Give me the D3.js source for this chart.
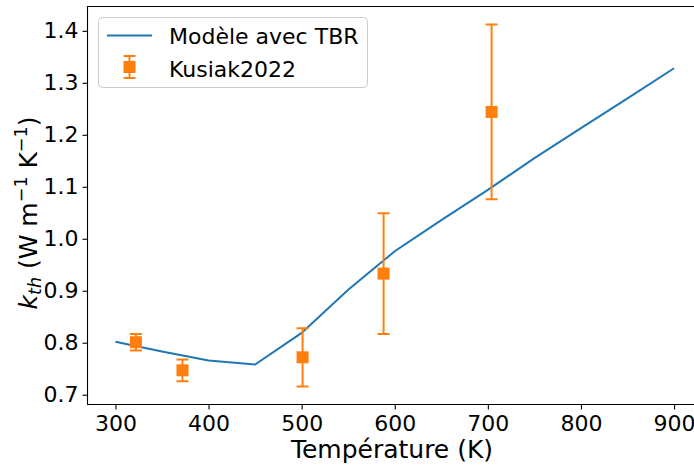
<!DOCTYPE html>
<html><head><meta charset="utf-8">
<script src="https://cdn.jsdelivr.net/npm/d3@7"></script>
<style>
body{margin:0;background:#fff;}
text{font-family:"DejaVu Sans",sans-serif;fill:#000;}
</style></head>
<body>
<svg id="chart" width="694" height="467"></svg>
<script>
// Model line (Modèle avec TBR)
const modelT = [300, 350, 400, 450, 500, 550, 600, 650, 700, 750, 800, 850, 900];
const modelK = [0.802, 0.783, 0.766, 0.758, 0.819, 0.902, 0.976, 1.036, 1.094, 1.155, 1.213, 1.270, 1.328];
// Experimental points (Kusiak2022)
const expT = [322, 372, 501, 588, 704];
const expK = [0.801, 0.747, 0.772, 0.933, 1.244];
const expErr = [0.016, 0.021, 0.056, 0.116, 0.168];
const xTicks = [300, 400, 500, 600, 700, 800, 900];
const yTicks = [0.7, 0.8, 0.9, 1.0, 1.1, 1.2, 1.3, 1.4];

const svg = d3.select("#chart");
const L = 87.5, R = 702, T = 6.5, B = 404.5;
const blue = "#1f77b4", orange = "#ff7f0e";
const tickFont = "22px", labelFont = "25px";

const xmin = d3.min(modelT.concat(expT)), xmax = d3.max(modelT.concat(expT));
const lows = expK.map((v,i)=>v-expErr[i]), highs = expK.map((v,i)=>v+expErr[i]);
const ymin = d3.min(modelK.concat(lows)), ymax = d3.max(modelK.concat(highs));
const xm = (xmax-xmin)*0.05, ym = (ymax-ymin)*0.05;
const x = d3.scaleLinear().domain([xmin-xm, xmax+xm]).range([L, R]);
const y = d3.scaleLinear().domain([ymin-ym, ymax+ym]).range([B, T]);

// axes
const xAxis = svg.append("g").attr("transform",`translate(0,${B})`)
  .call(d3.axisBottom(x).tickValues(xTicks).tickFormat(d3.format("d")).tickSize(5).tickPadding(5));
const yAxis = svg.append("g").attr("transform",`translate(${L},0)`)
  .call(d3.axisLeft(y).tickValues(yTicks).tickFormat(d3.format(".1f")).tickSize(5).tickPadding(4));
[xAxis,yAxis].forEach(a=>{
  a.select(".domain").remove();
  a.selectAll("line").attr("stroke","#000").attr("stroke-width",1.1);
  a.selectAll("text").style("font-size",tickFont).style("font-family","DejaVu Sans");
});
xAxis.selectAll("text").attr("y",26).attr("dy",0);

// spines
svg.append("path").attr("d",`M${R},${T}H${L}V${B}H${R}`).attr("fill","none").attr("stroke","#000").attr("stroke-width",1.1);

svg.append("defs").append("clipPath").attr("id","clip").append("rect")
  .attr("x",L).attr("y",T).attr("width",R-L).attr("height",B-T);
const plot = svg.append("g").attr("clip-path","url(#clip)");

// model line
plot.append("path").datum(modelT.map((t,i)=>[t,modelK[i]]))
  .attr("d", d3.line().x(d=>x(d[0])).y(d=>y(d[1])))
  .attr("fill","none").attr("stroke",blue).attr("stroke-width",2);

// error bars
const eg = plot.selectAll(".eb").data(expT.map((t,i)=>({t, k:expK[i], e:expErr[i]}))).enter().append("g");
eg.append("line").attr("x1",d=>x(d.t)).attr("x2",d=>x(d.t)).attr("y1",d=>y(d.k-d.e)).attr("y2",d=>y(d.k+d.e))
  .attr("stroke",orange).attr("stroke-width",2);
[-1,1].forEach(s=>{
  eg.append("line").attr("x1",d=>x(d.t)-6).attr("x2",d=>x(d.t)+6)
    .attr("y1",d=>y(d.k+s*d.e)).attr("y2",d=>y(d.k+s*d.e))
    .attr("stroke",orange).attr("stroke-width",2);
});
eg.append("rect").attr("x",d=>x(d.t)-6).attr("y",d=>y(d.k)-6).attr("width",12).attr("height",12)
  .attr("fill",orange);

// axis labels
svg.append("text").attr("x",392).attr("y",458).attr("text-anchor","middle")
  .style("font-size",labelFont).text("Température (K)");
const yl = svg.append("text").attr("transform","translate(37,213) rotate(-90)").attr("text-anchor","middle")
  .style("font-size",labelFont);
yl.append("tspan").style("font-style","italic").text("k");
yl.append("tspan").style("font-style","italic").style("font-size","17.5px").attr("dy",4).text("th");
yl.append("tspan").attr("dy",-4).text(" (W m");
yl.append("tspan").style("font-size","17.5px").attr("dy",-10).text("−1");
yl.append("tspan").attr("dy",10).text(" K");
yl.append("tspan").style("font-size","17.5px").attr("dy",-10).text("−1");
yl.append("tspan").attr("dy",10).text(")");

// legend
const lg = svg.append("g");
lg.append("rect").attr("x",98.5).attr("y",17.5).attr("width",269).attr("height",70).attr("rx",4)
  .attr("fill","#fff").attr("fill-opacity",0.8).attr("stroke","#ccc").attr("stroke-width",1);
lg.append("line").attr("x1",107).attr("x2",152).attr("y1",35.5).attr("y2",35.5).attr("stroke",blue).attr("stroke-width",2);
lg.append("text").attr("x",169).attr("y",43.5).style("font-size",tickFont).text("Modèle avec TBR");
const lx = 129.5, ly = 67;
lg.append("line").attr("x1",lx).attr("x2",lx).attr("y1",ly-11).attr("y2",ly+11).attr("stroke",orange).attr("stroke-width",2);
lg.append("line").attr("x1",lx-6).attr("x2",lx+6).attr("y1",ly-11).attr("y2",ly-11).attr("stroke",orange).attr("stroke-width",2);
lg.append("line").attr("x1",lx-6).attr("x2",lx+6).attr("y1",ly+11).attr("y2",ly+11).attr("stroke",orange).attr("stroke-width",2);
lg.append("rect").attr("x",lx-6).attr("y",ly-6).attr("width",12).attr("height",12).attr("fill",orange);
lg.append("text").attr("x",169).attr("y",77).style("font-size",tickFont).text("Kusiak2022");
</script>
</body></html>
